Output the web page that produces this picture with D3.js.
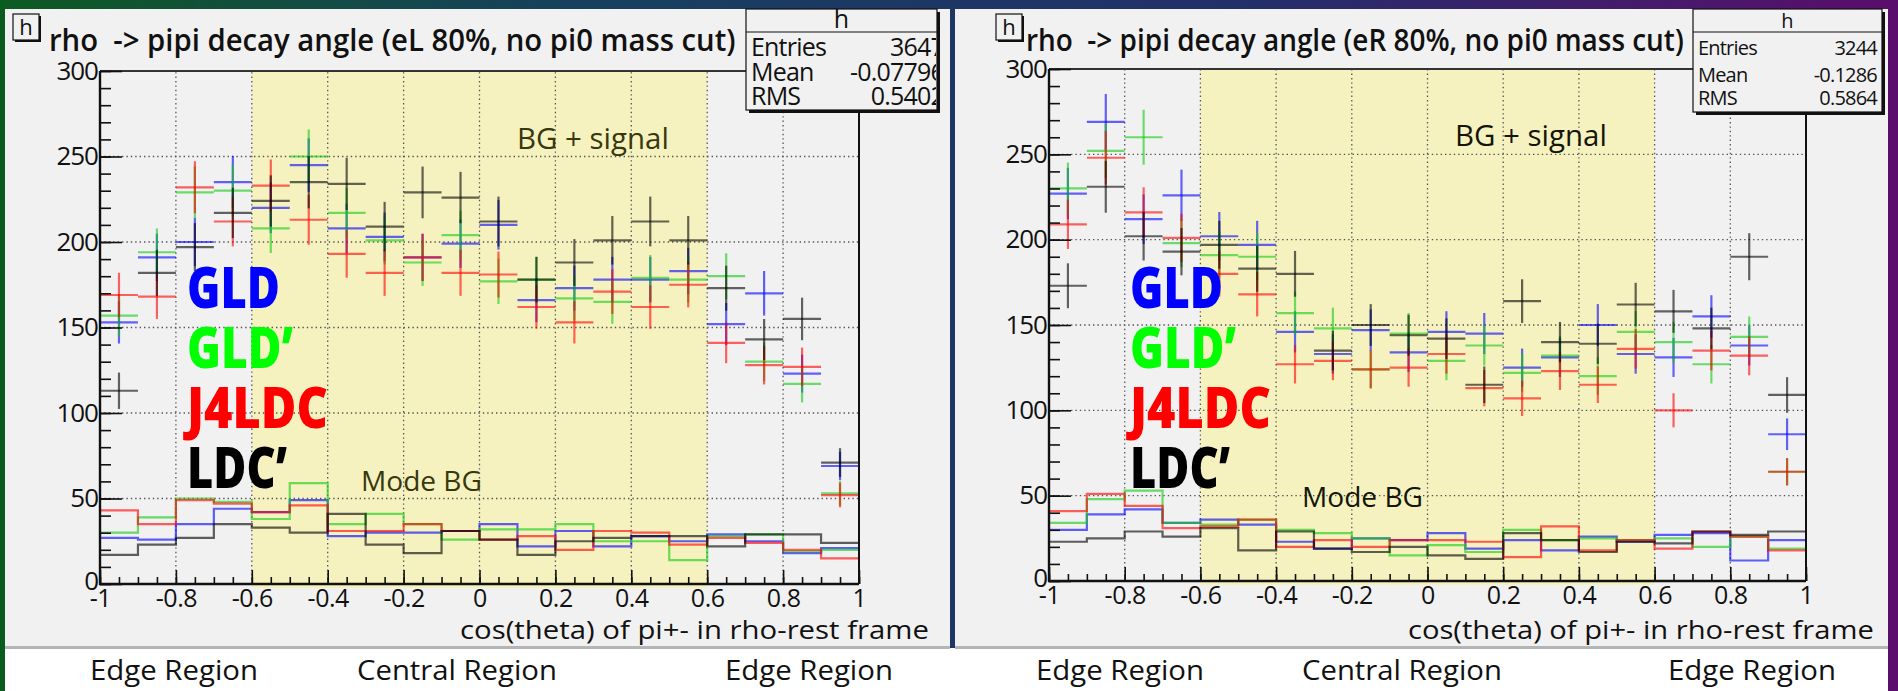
<!DOCTYPE html>
<html>
<head>
<meta charset="utf-8">
<script src="https://cdn.jsdelivr.net/npm/d3@7"></script>
<style>
  body { margin: 0; background: #1b2a4a; }
  svg { display: block; }
  text { font-family: "Open Sans", "Noto Sans", "DejaVu Sans", sans-serif; }
</style>
</head>
<body>
<svg id="c" width="1898" height="691"></svg>
<script>
// ---- binning and axis ticks ----
const binEdges = [-1, -0.9, -0.8, -0.7, -0.6, -0.5, -0.4, -0.3, -0.2, -0.1, 0,
                  0.1, 0.2, 0.3, 0.4, 0.5, 0.6, 0.7, 0.8, 0.9, 1];
const xTickLabels = [-1, -0.8, -0.6, -0.4, -0.2, 0, 0.2, 0.4, 0.6, 0.8, 1];
const yTickLabels = [0, 50, 100, 150, 200, 250, 300];
const detectors = ["GLD", "GLD’", "J4LDC", "LDC’"];
const detColors = ["#0000ff", "#11cc11", "#ff0000", "#000000"];
const labelColors = ["#0000ff", "#00ff00", "#ff0000", "#000000"];

// ---- eL 80% : BG + signal (counts per bin) ----
const eL_GLD   = [153, 191, 200, 235, 220, 245, 208, 203, 191, 199, 210, 166, 173, 178, 178, 183, 152, 170, 123, 69];
const eL_GLDp  = [157, 194, 229, 230, 208, 250, 217, 201, 188, 204, 177, 178, 167, 165, 179, 178, 180, 130, 117, 53];
const eL_J4LDC = [169, 168, 232, 212, 233, 213, 193, 182, 191, 182, 181, 162, 153, 171, 162, 175, 141, 128, 127, 52];
const eL_LDCp  = [113, 182, 197, 217, 224, 235, 234, 209, 229, 226, 212, 178, 188, 201, 212, 201, 173, 143, 155, 71];

// ---- eL 80% : Mode BG ----
const eL_bg_GLD   = [27, 26, 35, 44, 42, 49, 28, 30, 30, 31, 35, 22, 31, 22, 28, 25, 29, 25, 18, 21];
const eL_bg_GLDp  = [30, 39, 50, 48, 38, 59, 35, 41, 35, 26, 32, 32, 35, 25, 25, 14, 28, 29, 19, 20];
const eL_bg_J4LDC = [43, 35, 49, 47, 42, 46, 31, 31, 35, 31, 26, 28, 20, 31, 30, 23, 27, 24, 20, 15];
const eL_bg_LDCp  = [17, 23, 27, 35, 33, 30, 41, 23, 18, 31, 26, 17, 25, 27, 28, 28, 22, 29, 29, 24];

// ---- eR 80% : BG + signal ----
const eR_GLD   = [227, 269, 212, 226, 202, 197, 146, 133, 147, 134, 146, 145, 125, 131, 150, 133, 131, 155, 138, 86];
const eR_GLDp  = [230, 252, 260, 198, 191, 190, 157, 148, 124, 145, 129, 138, 122, 132, 120, 146, 140, 127, 143, 64];
const eR_J4LDC = [209, 248, 216, 201, 180, 168, 127, 129, 124, 125, 133, 113, 107, 123, 115, 136, 100, 135, 132, 64];
const eR_LDCp  = [173, 231, 202, 193, 197, 183, 180, 135, 150, 144, 142, 115, 164, 140, 139, 162, 158, 148, 190, 109];

// ---- eR 80% : Mode BG ----
const eR_bg_GLD   = [30, 39, 42, 34, 36, 33, 23, 19, 25, 24, 28, 19, 24, 18, 26, 23, 27, 28, 12, 24];
const eR_bg_GLDp  = [34, 48, 53, 34, 33, 36, 30, 28, 25, 15, 21, 17, 30, 24, 25, 24, 25, 20, 26, 19];
const eR_bg_J4LDC = [41, 51, 44, 31, 32, 36, 20, 24, 20, 24, 24, 23, 14, 32, 18, 24, 19, 29, 26, 18];
const eR_bg_LDCp  = [23, 25, 29, 26, 31, 18, 29, 19, 17, 20, 15, 13, 28, 24, 17, 23, 22, 29, 27, 29];

// ---- statistics boxes ----
const eL_stats = [["Entries", "3647"], ["Mean", "-0.07796"], ["RMS", "0.5402"]];
const eR_stats = [["Entries", "3244"], ["Mean", "-0.1286"], ["RMS", "0.5864"]];

const regionLabels = ["Edge Region", "Central Region", "Edge Region"];

const svg = d3.select("#c");
const defs = svg.append("defs");

// narrow a start-anchored text horizontally so it spans `width` pixels
function squeeze(t, width) {
  const w = t.node().getComputedTextLength();
  const k = width / w;
  const x0 = +t.attr("x");
  t.attr("transform", `translate(${x0},0) scale(${k},1) translate(${-x0},0)`);
  return t;
}

// slide backdrop
const grad = defs.append("linearGradient").attr("id", "slide").attr("x1", "0").attr("x2", "1");
grad.append("stop").attr("offset", "0").attr("stop-color", "#0d5a22");
grad.append("stop").attr("offset", "0.3").attr("stop-color", "#17405e");
grad.append("stop").attr("offset", "0.65").attr("stop-color", "#22306a");
grad.append("stop").attr("offset", "1").attr("stop-color", "#5a0d6c");
svg.append("rect").attr("width", 1898).attr("height", 691).attr("fill", "url(#slide)");
svg.append("rect").attr("x", 0).attr("y", 0).attr("width", 5).attr("height", 691).attr("fill", "#0a5c1e");

// caption strip
svg.append("rect").attr("x", 5).attr("y", 648).attr("width", 1883).attr("height", 43).attr("fill", "#ffffff");

function drawPanel(p) {
  const g = svg.append("g");
  const x = d3.scaleLinear().domain([-1, 1]).range([p.x0, p.x1]);
  const y = d3.scaleLinear().domain([0, 300]).range([p.y0, p.y1]);

  // canvas
  g.append("rect").attr("x", p.cx0).attr("y", 9).attr("width", p.cx1 - p.cx0).attr("height", 638)
    .attr("fill", "#f1f1f1");
  g.append("line").attr("x1", p.cx0).attr("x2", p.cx1).attr("y1", 647.5).attr("y2", 647.5)
    .attr("stroke", "#b5b5b5").attr("stroke-width", 3);

  // central region band
  g.append("rect").attr("x", x(-0.6)).attr("y", y(300))
    .attr("width", x(0.6) - x(-0.6)).attr("height", y(0) - y(300) + 4)
    .attr("fill", "#f5f2c0");

  // dotted grid
  const gx = [-0.8, -0.6, -0.4, -0.2, 0, 0.2, 0.4, 0.6, 0.8];
  const gy = [50, 100, 150, 200, 250];
  g.selectAll(null).data(gx).join("line")
    .attr("x1", d => x(d)).attr("x2", d => x(d)).attr("y1", y(0)).attr("y2", y(300))
    .attr("stroke", "#555").attr("stroke-width", 1.3).attr("stroke-dasharray", "1.4,3");
  g.selectAll(null).data(gy).join("line")
    .attr("x1", x(-1)).attr("x2", x(1)).attr("y1", d => y(d)).attr("y2", d => y(d))
    .attr("stroke", "#555").attr("stroke-width", 1.3).attr("stroke-dasharray", "1.4,3");

  const clipId = "clip" + p.id;
  defs.append("clipPath").attr("id", clipId).append("rect")
    .attr("x", x(-1)).attr("y", y(300)).attr("width", x(1) - x(-1)).attr("height", y(0) - y(300));
  const plot = g.append("g").attr("clip-path", `url(#${clipId})`);

  // Mode BG step histograms
  const step = d3.line().x(d => x(d[0])).y(d => y(d[1])).curve(d3.curveStepAfter);
  p.bg.forEach((vals, k) => {
    const pts = vals.map((v, i) => [binEdges[i], v]);
    pts.push([binEdges[binEdges.length - 1], vals[vals.length - 1]]);
    plot.append("path").attr("d", step(pts)).attr("fill", "none")
      .attr("stroke", detColors[k]).attr("stroke-opacity", 0.62).attr("stroke-width", 2.2);
  });

  // BG + signal points with Poisson error bars
  p.sig.forEach((vals, k) => {
    const s = plot.append("g").attr("stroke", detColors[k]).attr("stroke-opacity", 0.6)
      .attr("stroke-width", 2.2);
    vals.forEach((v, i) => {
      const lo = binEdges[i], hi = binEdges[i + 1], mid = (lo + hi) / 2, e = Math.sqrt(v);
      s.append("line").attr("x1", x(lo)).attr("x2", x(hi)).attr("y1", y(v)).attr("y2", y(v));
      s.append("line").attr("x1", x(mid)).attr("x2", x(mid)).attr("y1", y(v - e)).attr("y2", y(v + e));
    });
  });

  // frame
  g.append("line").attr("x1", x(-1)).attr("x2", x(1)).attr("y1", y(300)).attr("y2", y(300))
    .attr("stroke", "#333").attr("stroke-width", 2);
  g.append("line").attr("x1", x(1)).attr("x2", x(1)).attr("y1", y(300)).attr("y2", y(0))
    .attr("stroke", "#111").attr("stroke-width", 2);

  // y axis: inward ticks + labels
  const yMinor = d3.axisLeft(y).tickValues(d3.range(0, 301, 10)).tickSizeInner(-11).tickSizeOuter(0).tickFormat("");
  const yMajor = d3.axisLeft(y).tickValues(yTickLabels).tickSizeInner(-22).tickSizeOuter(0)
    .tickPadding(2).tickFormat(d => String(d));
  [yMinor, yMajor].forEach(ax => {
    const a = g.append("g").attr("transform", `translate(${x(-1)},0)`).call(ax);
    a.select(".domain").remove();
    a.selectAll("line").attr("stroke", "#111").attr("stroke-width", 1.6);
    a.selectAll("text").filter(function () { return this.textContent === ""; }).remove();
    a.selectAll("text").attr("fill", "#111").attr("font-size", 26).attr("letter-spacing", -1)
      .attr("font-family", "'Open Sans', sans-serif")
      .attr("dy", d => d === 0 ? "0.22em" : "0.32em");
  });

  // x axis: inward ticks + labels
  const fmt = d => String(+d.toFixed(1));
  const xMinor = d3.axisBottom(x).tickValues(d3.range(-20, 21, 1).map(k => k * 0.05)).tickSizeInner(-7).tickSizeOuter(0).tickFormat("");
  const xMajor = d3.axisBottom(x).tickValues(xTickLabels).tickSizeInner(-14).tickSizeOuter(0)
    .tickPadding(5).tickFormat(fmt);
  [xMinor, xMajor].forEach(ax => {
    const a = g.append("g").attr("transform", `translate(0,${y(0)})`).call(ax);
    a.select(".domain").remove();
    a.selectAll("line").attr("stroke", "#111").attr("stroke-width", 1.6);
    a.selectAll("text").filter(function () { return this.textContent === ""; }).remove();
    a.selectAll("text").attr("fill", "#111").attr("font-size", 25).attr("letter-spacing", -0.5)
      .attr("font-family", "'Open Sans', sans-serif");
  });
  g.append("line").attr("x1", x(-1)).attr("x2", x(-1)).attr("y1", y(0) + 1).attr("y2", y(300))
    .attr("stroke", "#111").attr("stroke-width", 2.4);
  g.append("line").attr("x1", x(-1) - 1).attr("x2", x(1)).attr("y1", y(0)).attr("y2", y(0))
    .attr("stroke", "#111").attr("stroke-width", 2.4);

  // x axis title
  squeeze(g.append("text").attr("x", p.axTitle[0]).attr("y", 639).attr("font-size", 25)
    .attr("fill", "#111").text("cos(theta) of pi+- in rho-rest frame"), p.axTitle[1] - p.axTitle[0]);

  // small "h" label box
  const hb = p.hbox;
  g.append("rect").attr("x", hb[0] + 2).attr("y", 16).attr("width", hb[1] - hb[0]).attr("height", 26).attr("fill", "#111");
  g.append("rect").attr("x", hb[0]).attr("y", 14).attr("width", hb[1] - hb[0]).attr("height", 26)
    .attr("fill", "#f1f1f1").attr("stroke", "#111").attr("stroke-width", 1.2);
  g.append("text").attr("x", (hb[0] + hb[1]) / 2).attr("y", 35).attr("text-anchor", "middle")
    .attr("font-size", 22).attr("fill", "#111").text("h");

  // title
  squeeze(g.append("text").attr("x", p.title[0]).attr("y", 51).attr("font-size", 31).attr("font-weight", 600)
    .style("white-space", "pre").attr("fill", "#111").text(p.titleText), p.title[1] - p.title[0]);

  // statistics box
  const sb = p.stats;
  g.append("rect").attr("x", sb.x0 + 3).attr("y", sb.y0 + 3).attr("width", sb.x1 - sb.x0).attr("height", sb.y1 - sb.y0).attr("fill", "#111");
  g.append("rect").attr("x", sb.x0).attr("y", sb.y0).attr("width", sb.x1 - sb.x0).attr("height", sb.y1 - sb.y0)
    .attr("fill", "#f1f1f1").attr("stroke", "#111").attr("stroke-width", 1.2);
  g.append("line").attr("x1", sb.x0).attr("x2", sb.x1).attr("y1", sb.sep).attr("y2", sb.sep)
    .attr("stroke", "#111").attr("stroke-width", 1.2);
  g.append("text").attr("x", (sb.x0 + sb.x1) / 2).attr("y", sb.sep - 4).attr("text-anchor", "middle")
    .attr("font-size", sb.fs).attr("fill", "#111").text("h");
  const sClip = "sclip" + p.id;
  defs.append("clipPath").attr("id", sClip).append("rect")
    .attr("x", sb.x0).attr("y", sb.y0).attr("width", sb.x1 - sb.x0 - 1).attr("height", sb.y1 - sb.y0);
  const st = g.append("g").attr("clip-path", `url(#${sClip})`);
  sb.rows.forEach((r, i) => {
    st.append("text").attr("x", sb.x0 + 5).attr("y", sb.base[i]).attr("font-size", sb.fs)
      .attr("letter-spacing", -0.8).attr("fill", "#111").text(r[0]);
    st.append("text").attr("x", sb.vx).attr("y", sb.base[i]).attr("font-size", sb.fs)
      .attr("letter-spacing", -0.8).attr("text-anchor", "end").attr("fill", "#111").text(r[1]);
  });

  // annotations
  squeeze(g.append("text").attr("x", p.sigLabel[0]).attr("y", p.sigLabel[1]).attr("font-size", 30)
    .attr("fill", p.noteColor).text("BG + signal"), 152);
  squeeze(g.append("text").attr("x", p.bgLabel[0]).attr("y", p.bgLabel[1]).attr("font-size", 28)
    .attr("fill", p.noteColor).text("Mode BG"), 121);

  // detector names
  const nameW = [93, 106, 141, 100];
  detectors.forEach((name, k) => {
    squeeze(g.append("text").attr("x", p.nameX).attr("y", 308 + 60 * k).attr("font-size", 57)
      .attr("font-weight", 800).attr("fill", labelColors[k]).text(name), nameW[k]);
  });

  // region captions
  const rw = [168, 200, 168];
  regionLabels.forEach((t, i) => {
    squeeze(svg.append("text").attr("x", p.regionX[i]).attr("y", 680).attr("font-size", 28)
      .attr("fill", "#111").text(t), rw[i]);
  });
}

drawPanel({
  id: "L", cx0: 5, cx1: 950,
  x0: 100, x1: 859, y0: 584, y1: 71,
  titleText: "rho  -> pipi decay angle (eL 80%, no pi0 mass cut)", title: [49, 736],
  hbox: [13, 39],
  stats: { x0: 746, x1: 937, y0: 9, y1: 110, sep: 32, fs: 25, vx: 944, base: [56, 81, 105], rows: eL_stats },
  sig: [eL_GLD, eL_GLDp, eL_J4LDC, eL_LDCp],
  bg: [eL_bg_GLD, eL_bg_GLDp, eL_bg_J4LDC, eL_bg_LDCp],
  axTitle: [460, 929],
  sigLabel: [517, 149], bgLabel: [361, 491], noteColor: "#38380f",
  nameX: 187,
  regionX: [90, 357, 725]
});

drawPanel({
  id: "R", cx0: 955, cx1: 1888,
  x0: 1049, x1: 1806, y0: 581, y1: 69,
  titleText: "rho  -> pipi decay angle (eR 80%, no pi0 mass cut)", title: [1026, 1684],
  hbox: [996, 1022],
  stats: { x0: 1693, x1: 1882, y0: 9, y1: 112, sep: 32, fs: 20, vx: 1877, base: [55, 82, 105], rows: eR_stats },
  sig: [eR_GLD, eR_GLDp, eR_J4LDC, eR_LDCp],
  bg: [eR_bg_GLD, eR_bg_GLDp, eR_bg_J4LDC, eR_bg_LDCp],
  axTitle: [1408, 1874],
  sigLabel: [1455, 146], bgLabel: [1302, 507], noteColor: "#15150a",
  nameX: 1130,
  regionX: [1036, 1302, 1668]
});
</script>
</body>
</html>
